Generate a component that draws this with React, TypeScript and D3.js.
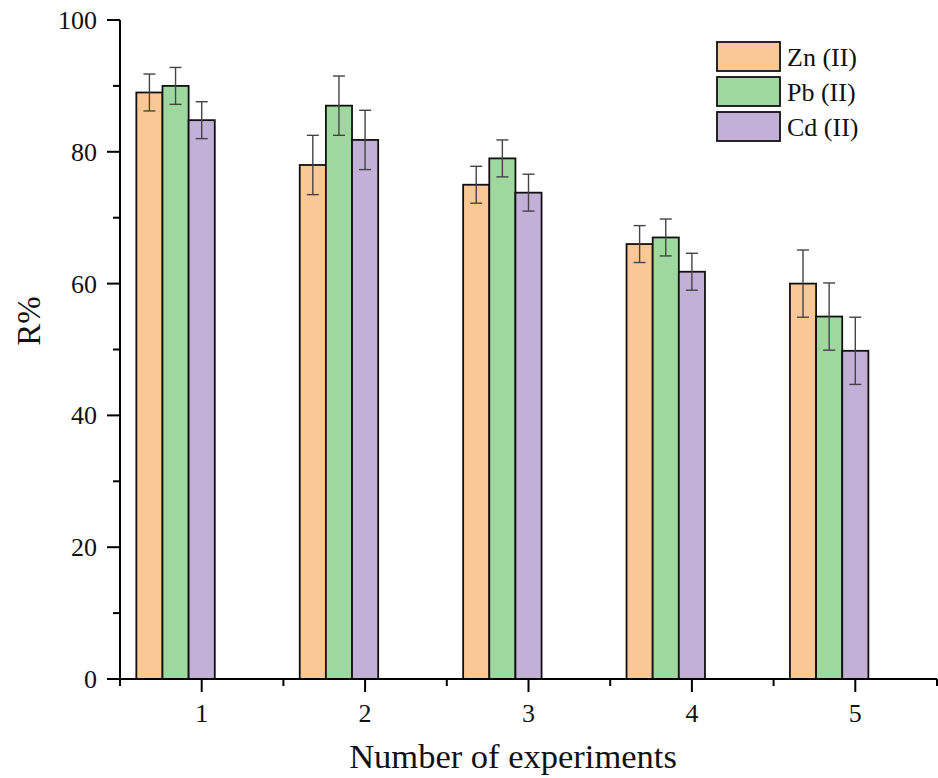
import React from "react";
import * as d3 from "d3";

const categories = [1, 2, 3, 4, 5];
const seriesNames = ["Zn (II)", "Pb (II)", "Cd (II)"];
const znValues = [89, 78, 75, 66, 60];
const pbValues = [90, 87, 79, 67, 55];
const cdValues = [84.8, 81.8, 73.8, 61.8, 49.8];
const znErrors = [2.8, 4.5, 2.8, 2.8, 5.1];
const pbErrors = [2.8, 4.5, 2.8, 2.8, 5.1];
const cdErrors = [2.8, 4.5, 2.8, 2.8, 5.1];
const colors = ["#FAC896", "#9FD89F", "#C2B0D7"];
const yTicks = [0, 20, 40, 60, 80, 100];
const yMinorTicks = [10, 30, 50, 70, 90];
const xMinorTicks = [0.5, 1.5, 2.5, 3.5, 4.5, 5.5];

export default function App() {
  const W = 938, H = 778;
  const x = d3.scaleLinear().domain([0.5, 5.5]).range([120, 937]);
  const y = d3.scaleLinear().domain([0, 100]).range([679, 20]);
  const bw = x(1.16) - x(1);
  const values = [znValues, pbValues, cdValues];
  const errors = [znErrors, pbErrors, cdErrors];
  const font = "'Liberation Serif', 'Times New Roman', serif";

  return (
    <svg width={W} height={H} style={{ position: "absolute", left: 0, top: 0, background: "#fff" }} fontFamily={font}>
      {categories.map((c, i) =>
        values.map((vals, s) => {
          const cx = x(c) + (s - 2) * bw;
          const v = vals[i];
          const e = errors[s][i];
          return (
            <g key={`${i}-${s}`}>
              <rect x={cx - bw / 2} y={y(v)} width={bw} height={y(0) - y(v)} fill={colors[s]} stroke="#111" strokeWidth={1.8} />
              <line x1={cx} x2={cx} y1={y(v + e)} y2={y(v - e)} stroke="#444" strokeWidth={1.4} />
              <line x1={cx - 6} x2={cx + 6} y1={y(v + e)} y2={y(v + e)} stroke="#444" strokeWidth={1.4} />
              <line x1={cx - 6} x2={cx + 6} y1={y(v - e)} y2={y(v - e)} stroke="#444" strokeWidth={1.4} />
            </g>
          );
        })
      )}
      {/* axes */}
      <line x1={x(0.5)} x2={x(0.5)} y1={y(100)} y2={y(0) + 1} stroke="#000" strokeWidth={2} />
      <line x1={x(0.5) - 1} x2={x(5.5)} y1={y(0)} y2={y(0)} stroke="#000" strokeWidth={2} />
      {yTicks.map((t) => (
        <g key={`yt${t}`}>
          <line x1={x(0.5) - 13} x2={x(0.5)} y1={y(t)} y2={y(t)} stroke="#000" strokeWidth={2} />
          <text x={97} y={y(t) + 9} textAnchor="end" fontSize={26} fill="#111">{t}</text>
        </g>
      ))}
      {yMinorTicks.map((t) => (
        <line key={`ym${t}`} x1={x(0.5) - 7} x2={x(0.5)} y1={y(t)} y2={y(t)} stroke="#000" strokeWidth={2} />
      ))}
      {categories.map((c) => (
        <g key={`xt${c}`}>
          <line x1={x(c)} x2={x(c)} y1={y(0)} y2={y(0) + 13} stroke="#000" strokeWidth={2} />
          <text x={x(c)} y={722} textAnchor="middle" fontSize={26} fill="#111">{c}</text>
        </g>
      ))}
      {xMinorTicks.map((t) => (
        <line key={`xm${t}`} x1={x(t)} x2={x(t)} y1={y(0)} y2={y(0) + 7} stroke="#000" strokeWidth={2} />
      ))}
      <text x={513} y={768} textAnchor="middle" fontSize={34.5} fill="#111">Number of experiments</text>
      <text transform={`translate(40, 321) rotate(-90)`} textAnchor="middle" fontSize={33} fill="#111">R%</text>
      {/* legend */}
      {seriesNames.map((n, s) => (
        <g key={n}>
          <rect x={717} y={42 + s * 35} width={63} height={29} fill={colors[s]} stroke="#111" strokeWidth={1.8} />
          <text x={787} y={66 + s * 35} fontSize={26} fill="#111">{n}</text>
        </g>
      ))}
    </svg>
  );
}
